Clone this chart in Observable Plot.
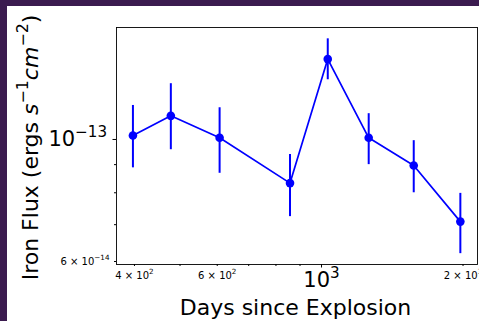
<!DOCTYPE html>
<html><head><meta charset="utf-8">
<script src="https://cdn.jsdelivr.net/npm/d3@7"></script>
<script src="https://cdn.jsdelivr.net/npm/@observablehq/plot@0.6"></script>
<style>
body{margin:0;background:#fff;}
#wrap{position:relative;width:479px;height:321px;overflow:hidden;background:#fff;}
#wrap svg{position:absolute;left:0;top:0;}
.band{position:absolute;background:#3b1b4f;z-index:2;}
</style></head><body>
<div id="wrap">
  <div class="band" style="left:0;top:0;width:479px;height:6px"></div>
  <div class="band" style="left:0;top:0;width:7px;height:321px"></div>
</div>
<script>
// Data
const days = [397, 478, 607, 857, 1031, 1260, 1571, 1974];
const flux = [1.017e-13, 1.104e-13, 1.007e-13, 0.833e-13, 1.400e-13, 1.007e-13, 0.897e-13, 0.709e-13];
const fluxLow = [0.888e-13, 0.958e-13, 0.868e-13, 0.724e-13, 1.284e-13, 0.900e-13, 0.800e-13, 0.620e-13];
const fluxHigh = [1.153e-13, 1.263e-13, 1.142e-13, 0.939e-13, 1.524e-13, 1.114e-13, 0.995e-13, 0.798e-13];

// Ticks and labels
const xMajorTicks = [1000];
const xMajorLabels = ["10^{3}"];
const xMinorLabelTicks = [400, 600, 2000];
const xMinorLabels = ["4 × 10^{2}", "6 × 10^{2}", "2 × 10^{3}"];
const xMinorTicks = [500, 700, 800, 900];
const yMajorTicks = [1e-13];
const yMajorLabels = ["10^{−13}"];
const yMinorLabelTicks = [6e-14];
const yMinorLabels = ["6 × 10^{−14}"];
const yMinorTicks = [7e-14, 8e-14, 9e-14];
const xTitle = "Days since Explosion";
const yTitle = "Iron Flux (ergs ~{s}^{−1}~{cm}^{−2})";

const data = days.map((d, i) => ({day: d, flux: flux[i], lo: fluxLow[i], hi: fluxHigh[i]}));
const fmt = (ticks, labels) => d => labels[ticks.indexOf(d)];
const blue = "#0000ff";

const chart = Plot.plot({
  width: 479, height: 321,
  marginLeft: 116, marginRight: 2, marginTop: 27, marginBottom: 57,
  style: {fontFamily: "DejaVu Sans", fontSize: "10px", background: "transparent", color: "black", overflow: "visible"},
  x: {type: "log", domain: [366.3, 2147]},
  y: {type: "log", domain: [5.925e-14, 1.598e-13]},
  marks: [
    Plot.frame({stroke: "black", strokeWidth: 0.9}),
    Plot.axisX({ticks: xMajorTicks, tickFormat: fmt(xMajorTicks, xMajorLabels), tickSize: 3.5, tickPadding: 4.5, fontSize: 21, label: null}),
    Plot.axisX({ticks: xMinorLabelTicks, tickFormat: fmt(xMinorLabelTicks, xMinorLabels), tickSize: 2, tickPadding: 5, fontSize: 10, label: null}),
    Plot.axisX({ticks: xMinorTicks, tickFormat: () => "", tickSize: 2, label: null}),
    Plot.axisY({ticks: yMajorTicks, tickFormat: fmt(yMajorTicks, yMajorLabels), tickSize: 3.5, tickPadding: 6, fontSize: 21, label: null}),
    Plot.axisY({ticks: yMinorLabelTicks, tickFormat: fmt(yMinorLabelTicks, yMinorLabels), tickSize: 2, tickPadding: 5, fontSize: 10, label: null}),
    Plot.axisY({ticks: yMinorTicks, tickFormat: () => "", tickSize: 2, label: null}),
    Plot.line(data, {x: "day", y: "flux", stroke: blue, strokeWidth: 1.7}),
    Plot.ruleX(data, {x: "day", y1: "lo", y2: "hi", stroke: blue, strokeWidth: 2}),
    Plot.dot(data, {x: "day", y: "flux", r: 4.3, fill: blue, stroke: "none"}),
    Plot.text([xTitle], {text: d => d, frameAnchor: "bottom", dx: -1.5, dy: 50, lineAnchor: "bottom", textAnchor: "middle", fontSize: 22}),
    Plot.text([yTitle], {text: d => d, frameAnchor: "left", dx: -79, dy: 1.5, rotate: -90, lineAnchor: "bottom", textAnchor: "middle", fontSize: 22})
  ]
});
document.getElementById("wrap").appendChild(chart);

// Turn ^{..} (superscript) and ~{..} (italic) markup into tspans
function richify(el) {
  const s = el.textContent;
  if (!/[\^~]\{/.test(s)) return;
  const fs = parseFloat(getComputedStyle(el).fontSize);
  const parts = s.split(/([\^~]\{[^}]*\})/).filter(p => p);
  el.textContent = "";
  let raised = 0;
  for (const p of parts) {
    const ts = document.createElementNS("http://www.w3.org/2000/svg", "tspan");
    if (p.startsWith("^{")) {
      ts.textContent = p.slice(2, -1);
      ts.setAttribute("font-size", (fs * 0.72).toFixed(2));
      ts.setAttribute("dy", (-fs * 0.44).toFixed(2));
      raised = fs * 0.44;
    } else {
      let t = p;
      if (p.startsWith("~{")) { t = p.slice(2, -1); ts.setAttribute("font-style", "italic"); }
      ts.textContent = t;
      if (raised) { ts.setAttribute("dy", raised.toFixed(2)); raised = 0; }
    }
    el.appendChild(ts);
  }
}
d3.select(chart).selectAll("text").each(function() { richify(this); });
</script>
</body></html>
